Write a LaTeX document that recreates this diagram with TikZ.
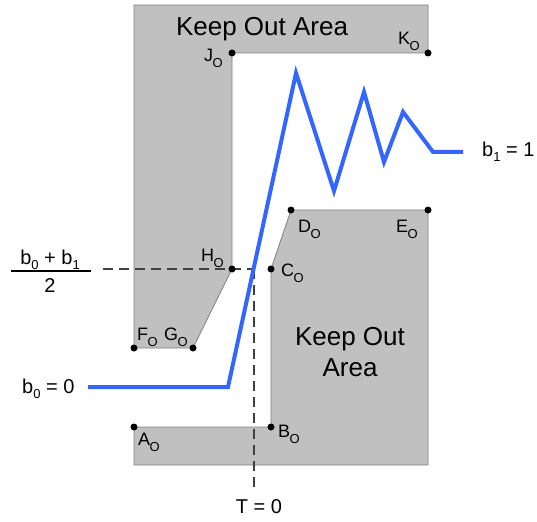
\documentclass[tikz,border=0pt]{standalone}
\usepackage{fontspec}
\setmainfont{Liberation Sans}
\begin{document}
\begin{tikzpicture}[x=1pt,y=-1pt,
  zone/.style={fill=zonegray,draw=edgegray,line width=0.8pt},
  pt/.style={circle,fill=black,inner sep=0pt,minimum size=7pt},
  lbl/.style={inner sep=0pt,anchor=base west,font=\fontsize{18}{20}\selectfont},
  big/.style={inner sep=0pt,font=\fontsize{26}{31}\selectfont,align=center},
  mid/.style={inner sep=0pt,font=\fontsize{20}{24}\selectfont},
  sig/.style={draw=sigblue,line width=4pt,line join=miter},
  guide/.style={draw=dashgray,line width=1.3pt,dash pattern=on 10pt off 6pt}]
\definecolor{zonegray}{HTML}{C0C0C0}
\definecolor{edgegray}{HTML}{808080}
\definecolor{sigblue}{HTML}{3366FF}
\definecolor{dashgray}{HTML}{404040}
\useasboundingbox (0,0) rectangle (537,521);
\newcommand{\subO}{\kern-0.5pt\raisebox{-6pt}{\fontsize{13}{13}\selectfont O}}
\newcommand{\subN}[1]{\raisebox{-5pt}{\fontsize{13}{13}\selectfont #1}}
% key points
\coordinate (J) at (232,53);
\coordinate (K) at (428,53);
\coordinate (H) at (232,269);
\coordinate (G) at (193,348);
\coordinate (F) at (134,348);
\coordinate (A) at (134,427);
\coordinate (B) at (271,427);
\coordinate (C) at (271,269);
\coordinate (D) at (291,210);
\coordinate (E) at (428,210);
% keep out areas
\draw[zone] (134,5) -- (428,5) -- (K) -- (J) -- (H) -- (G) -- (F) -- cycle;
\draw[zone] (A) -- (B) -- (C) -- (D) -- (E) -- (428,465) -- (134,465) -- cycle;
% guides
\coordinate (hs) at (103,269);
\coordinate (he) at (254,269);
\coordinate (vb) at (254,493);
\draw[guide] (hs) -- (he);
\draw[guide] (he) -- (vb);
% signal
\coordinate (s0) at (88,387);
\coordinate (s1) at (228,387);
\coordinate (p1) at (296,73);
\coordinate (p2) at (334,191);
\coordinate (p3) at (364,92);
\coordinate (p4) at (384,162);
\coordinate (p5) at (403,112);
\coordinate (p6) at (433,152);
\coordinate (s9) at (463,152);
\draw[sig] (s0) -- (s1) -- (p1) -- (p2) -- (p3) -- (p4) -- (p5) -- (p6) -- (s9);
% points
\foreach \p in {J,K,H,G,F,A,B,C,D,E} \node[pt] (d\p) at (\p) {};
% labels
\node[lbl] (lJ) at (204,62) {J\subO};
\node[lbl] (lK) at (398,45) {K\subO};
\node[lbl] (lH) at (201,261) {H\subO};
\node[lbl] (lC) at (281,276) {C\subO};
\node[lbl] (lD) at (298,232) {D\subO};
\node[lbl] (lE) at (396,232) {E\subO};
\node[lbl] (lF) at (137,340) {F\subO};
\node[lbl] (lG) at (164,340) {G\subO};
\node[lbl] (lA) at (138,445) {A\subO};
\node[lbl] (lB) at (278,437) {B\subO};
\node[big,anchor=base] (top) at (262,36) {Keep Out Area};
\node[big,anchor=base] (bot1) at (350,345) {Keep Out};
\node[big,anchor=base] (bot2) at (350,376) {Area};
\node[mid,anchor=base west] (b0) at (22,393) {b\subN{0} = 0};
\node[mid,anchor=base west] (b1) at (482,157) {b\subN{1} = 1};
\node[mid,anchor=base] (T) at (259,513) {T = 0};
\node[mid,anchor=base] (num) at (50,264) {b\subN{0} + b\subN{1}};
\node[mid,anchor=base] (den) at (50,292) {2};
\coordinate (fl) at (11,271);
\coordinate (fr) at (91,271);
\draw[line width=1.2pt] (fl) -- (fr);
\end{tikzpicture}
\end{document}
